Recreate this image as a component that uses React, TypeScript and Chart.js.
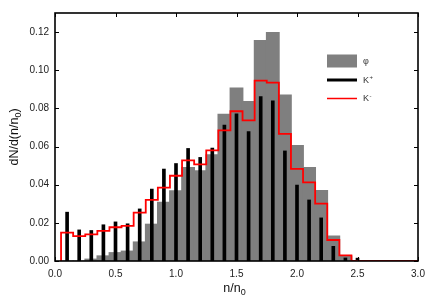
import React, { useEffect, useRef } from "react";
import { Chart, registerables } from "chart.js";

Chart.register(...registerables);

// Bin centres (bin width 0.1)
const binCenters = [
  0.1, 0.2, 0.3, 0.4, 0.5, 0.6, 0.7, 0.8, 0.9, 1.0,
  1.1, 1.2, 1.3, 1.4, 1.5, 1.6, 1.7, 1.8, 1.9, 2.0,
  2.1, 2.2, 2.3, 2.4, 2.5,
];
const binWidth = 0.1;

// φ (grey histogram)
const phiValues = [
  0, 0, 0.001, 0.0027, 0.0044, 0.0052, 0.010, 0.0193, 0.0308, 0.0368,
  0.049, 0.0473, 0.0557, 0.0769, 0.0907, 0.0836, 0.1156, 0.1198, 0.087, 0.0606,
  0.049, 0.037, 0.0131, 0.0026, 0,
];
// K+ (black thin bars)
const kPlusValues = [
  0.0256, 0.0163, 0.016, 0.019, 0.0205, 0.0195, 0.0273, 0.0377, 0.0482, 0.0511,
  0.059, 0.0543, 0.0592, 0.0713, 0.0772, 0.0678, 0.0862, 0.0839, 0.0577, 0.0398,
  0.032, 0.0226, 0.0077, 0.0016, 0.0015,
];
// K- (red step line)
const kMinusValues = [
  0.0149, 0.013, 0.014, 0.0158, 0.0177, 0.0184, 0.0254, 0.032, 0.0385, 0.0447,
  0.0527, 0.0506, 0.058, 0.0685, 0.0785, 0.0737, 0.0946, 0.0935, 0.0666, 0.0483,
  0.0412, 0.0301, 0.011, 0.003, 0,
];

const xTickValues = [0, 0.5, 1.0, 1.5, 2.0, 2.5, 3.0];
const yTickValues = [0, 0.02, 0.04, 0.06, 0.08, 0.1, 0.12];
const xMin = 0;
const xMax = 3.0;
const yMin = 0;
const yMax = 0.13;

const legendItems = [
  { label: "φ", sup: "", kind: "box", color: "#808080" },
  { label: "K", sup: "+", kind: "thick", color: "#000000" },
  { label: "K", sup: "-", kind: "thin", color: "#ff0000" },
];

const FONT = "'Liberation Sans', Arial, Helvetica, sans-serif";

function drawSubText(
  ctx: CanvasRenderingContext2D,
  parts: { t: string; sub?: boolean }[],
  size: number
) {
  const subSize = size * 0.72;
  let total = 0;
  const widths = parts.map((p) => {
    ctx.font = `${p.sub ? subSize : size}px ${FONT}`;
    const w = ctx.measureText(p.t).width;
    total += w;
    return w;
  });
  let x = -total / 2;
  parts.forEach((p, i) => {
    ctx.font = `${p.sub ? subSize : size}px ${FONT}`;
    ctx.fillText(p.t, x, p.sub ? size * 0.3 : 0);
    x += widths[i];
  });
}

const overlayPlugin = {
  id: "overlay",
  afterDraw(chart: any) {
    const { ctx, chartArea } = chart;
    const { left, right, top, bottom } = chartArea;
    const xs = chart.scales.x;
    const ys = chart.scales.y;
    ctx.save();
    ctx.strokeStyle = "#000";
    ctx.lineWidth = 1;
    const tl = 4;
    ctx.beginPath();
    xTickValues.forEach((v) => {
      const px = Math.round(xs.getPixelForValue(v)) + 0.5;
      ctx.moveTo(px, bottom);
      ctx.lineTo(px, bottom - tl);
      ctx.moveTo(px, top);
      ctx.lineTo(px, top + tl);
    });
    yTickValues.forEach((v) => {
      const py = Math.round(ys.getPixelForValue(v)) + 0.5;
      ctx.moveTo(left, py);
      ctx.lineTo(left + tl, py);
      ctx.moveTo(right, py);
      ctx.lineTo(right - tl, py);
    });
    ctx.stroke();
    ctx.lineWidth = 1.6;
    ctx.strokeRect(left, top, right - left, bottom - top);

    // legend
    const lx0 = 327;
    const lx1 = 357;
    const rowY = [61, 80, 98.5];
    legendItems.forEach((it, i) => {
      const y = rowY[i];
      if (it.kind === "box") {
        ctx.fillStyle = it.color;
        ctx.fillRect(lx0, y - 6.5, lx1 - lx0, 13);
      } else {
        ctx.strokeStyle = it.color;
        ctx.lineWidth = it.kind === "thick" ? 3 : 1.5;
        ctx.beginPath();
        ctx.moveTo(lx0, y);
        ctx.lineTo(lx1, y);
        ctx.stroke();
      }
      ctx.fillStyle = "#333";
      ctx.textAlign = "left";
      ctx.textBaseline = "middle";
      ctx.font = `9px ${FONT}`;
      ctx.fillText(it.label, 363, y + 0.5);
      if (it.sup) {
        const w = ctx.measureText(it.label).width;
        ctx.font = `6px ${FONT}`;
        ctx.fillText(it.sup === "-" ? "-" : "+", 363 + w + 0.5, y - 2.5);
      }
    });

    // axis titles
    ctx.fillStyle = "#111";
    ctx.textAlign = "left";
    ctx.textBaseline = "alphabetic";
    ctx.save();
    ctx.translate((left + right) / 2 - 2, 291.5);
    drawSubText(ctx, [{ t: "n/n" }, { t: "0", sub: true }], 12.5);
    ctx.restore();
    ctx.save();
    ctx.translate(17.5, (top + bottom) / 2);
    ctx.rotate(-Math.PI / 2);
    drawSubText(ctx, [{ t: "dN/d(n/n" }, { t: "0", sub: true }, { t: ")" }], 12.5);
    ctx.restore();
    ctx.restore();
  },
};

export default function App() {
  const canvasRef = useRef<HTMLCanvasElement | null>(null);

  useEffect(() => {
    if (!canvasRef.current) return;
    const half = binWidth / 2;
    const stepPoints = [
      { x: binCenters[0] - half, y: 0 },
      ...binCenters.map((c, i) => ({ x: c - half, y: kMinusValues[i] })),
      { x: xMax, y: 0 },
    ];
    const chart = new Chart(canvasRef.current, {
      type: "bar",
      data: {
        datasets: [
          {
            type: "line",
            label: "K-",
            data: stepPoints,
            borderColor: "#ff0000",
            borderWidth: 1.8,
            pointRadius: 0,
            stepped: "before",
            fill: false,
            order: 0,
          } as any,
          {
            type: "bar",
            label: "K+",
            data: binCenters.map((c, i) => ({ x: c, y: kPlusValues[i] })),
            backgroundColor: "#000000",
            barThickness: 3,
            grouped: false,
            order: 1,
          } as any,
          {
            type: "bar",
            label: "φ",
            data: binCenters.map((c, i) => ({ x: c, y: phiValues[i] })),
            backgroundColor: "#7f7f7f",
            barPercentage: 1.06,
            categoryPercentage: 1,
            inflateAmount: 0.5,
            grouped: false,
            order: 2,
          } as any,
        ],
      },
      options: {
        animation: false,
        responsive: true,
        maintainAspectRatio: false,
        layout: { padding: { left: 0, top: 13, right: 18, bottom: 0 } },
        plugins: { legend: { display: false }, tooltip: { enabled: false } },
        scales: {
          x: {
            type: "linear",
            min: xMin,
            max: xMax,
            offset: false,
            grid: { display: false, drawTicks: false },
            border: { display: false },
            afterBuildTicks: (scale: any) => {
              scale.ticks = xTickValues.map((v) => ({ value: v }));
            },
            afterFit: (scale: any) => {
              scale.height = 44;
            },
            ticks: {
              padding: 7,
              color: "#222",
              font: { family: FONT, size: 10 },
              maxRotation: 0,
              callback: (v: any) => Number(v).toFixed(1),
            },
          },
          y: {
            type: "linear",
            min: yMin,
            max: yMax,
            grid: { display: false, drawTicks: false },
            border: { display: false },
            afterBuildTicks: (scale: any) => {
              scale.ticks = yTickValues.map((v) => ({ value: v }));
            },
            afterFit: (scale: any) => {
              scale.width = 55;
            },
            ticks: {
              padding: 6,
              color: "#222",
              font: { family: FONT, size: 10 },
              callback: (v: any) => Number(v).toFixed(2),
            },
          },
        },
      } as any,
      plugins: [overlayPlugin],
    });
    return () => chart.destroy();
  }, []);

  return (
    <div style={{ position: "fixed", left: 0, top: 0, width: 436, height: 305, background: "#fff" }}>
      <canvas ref={canvasRef} />
    </div>
  );
}
